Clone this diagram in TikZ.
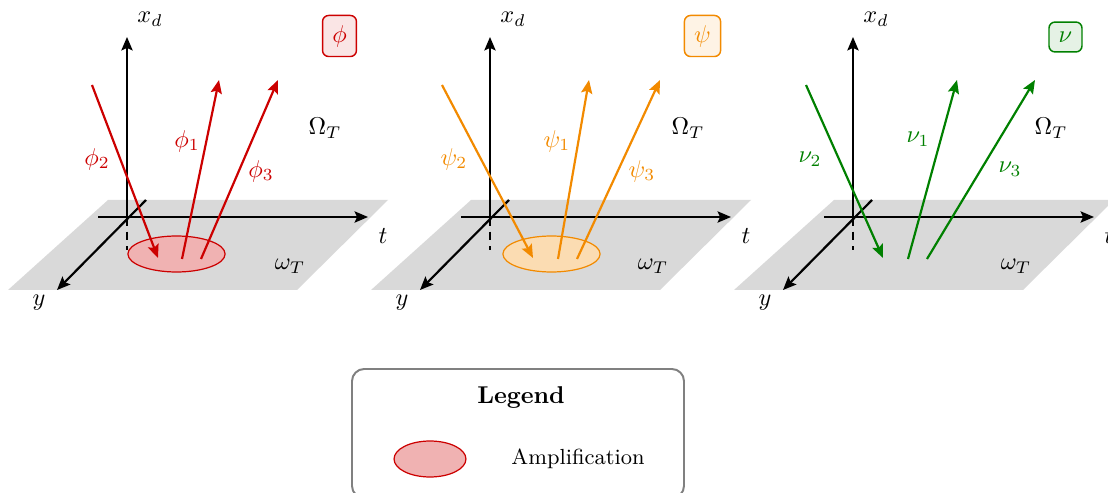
\documentclass[tikz,border=0pt]{standalone}
\usetikzlibrary{arrows.meta,shapes.geometric}
\definecolor{myred}{RGB}{204,0,0}
\definecolor{myorange}{RGB}{242,138,0}
\definecolor{mygreen}{RGB}{0,128,0}
\begin{document}
\begin{tikzpicture}[x=0.4115pt,y=-0.4115pt,
  axis/.style={line width=0.9pt,-{Stealth[length=5.5pt,width=4.6pt,inset=1pt]}},
  ray/.style={line width=0.9pt,-{Stealth[length=5.5pt,width=4.6pt,inset=1pt]}},
  lbl/.style={inner sep=0pt},
  tag/.style={rounded corners=2.5pt,inner sep=4pt,line width=0.6pt},
  amp/.style={ellipse,line width=0.5pt,inner sep=0pt,minimum width=40pt,minimum height=14.8pt}]
\useasboundingbox (0,0) rectangle (1108,493);
\clip (0,0) rectangle (1108,493);

% planes and axes
\foreach \o/\n in {0/1,363/2,726/3} {
  \fill[gray!30] (108+\o,200) -- (388+\o,200) -- (297+\o,290) -- (8+\o,290) -- cycle;
}
% amplification regions
\node[amp,draw=myred,fill=myred!30] (e1) at (176.5,254) {};
\node[amp,draw=myorange,fill=myorange!30] (e2) at (551.5,254) {};

\foreach \o/\n in {0/1,363/2,726/3} {
  \coordinate (O\n) at (127+\o,217);
  \coordinate (X\n) at (127+\o,37);
  \coordinate (T0\n) at (98+\o,217);
  \coordinate (T\n) at (368+\o,217);
  \coordinate (Y0\n) at (146+\o,200);
  \coordinate (Y\n) at (57+\o,290);
  \coordinate (D\n) at (127+\o,250);
  \draw[axis] (O\n) -- (X\n);
  \draw[axis] (T0\n) -- (T\n);
  \draw[axis] (Y0\n) -- (Y\n);
  \draw[line width=0.9pt,dash pattern=on 3.5pt off 2.5pt] (O\n) -- (D\n);
  \node[lbl] (xd\n) at (150+\o,19) {$x_d$};
  \node[lbl] (t\n) at (383+\o,236) {$t$};
  \node[lbl] (y\n) at (39+\o,303) {$y$};
  \node[lbl] (Om\n) at (325+\o,128) {$\Omega_T$};
  \node[lbl] (om\n) at (290+\o,266) {$\omega_T$};
}

% panel 1
\coordinate (a1s) at (92,85);   \coordinate (a1e) at (158,258);
\coordinate (b1s) at (182,259); \coordinate (b1e) at (219,80);
\coordinate (c1s) at (201,259); \coordinate (c1e) at (278,80);
\draw[ray,myred] (a1s) -- (a1e);
\draw[ray,myred] (b1s) -- (b1e);
\draw[ray,myred] (c1s) -- (c1e);
\node[lbl,text=myred] (p2) at (97,159) {$\phi_2$};
\node[lbl,text=myred] (p1) at (187,141) {$\phi_1$};
\node[lbl,text=myred] (p3) at (261,171) {$\phi_3$};
\node[tag,draw=myred,fill=myred!10,text=myred] (tp) at (339.5,36) {$\phi$};

% panel 2
\coordinate (a2s) at (442,85);  \coordinate (a2e) at (533,258);
\coordinate (b2s) at (558,259); \coordinate (b2e) at (589,80);
\coordinate (c2s) at (577,259); \coordinate (c2e) at (660,80);
\draw[ray,myorange] (a2s) -- (a2e);
\draw[ray,myorange] (b2s) -- (b2e);
\draw[ray,myorange] (c2s) -- (c2e);
\node[lbl,text=myorange] (q2) at (454,159) {$\psi_2$};
\node[lbl,text=myorange] (q1) at (557,141) {$\psi_1$};
\node[lbl,text=myorange] (q3) at (642,171) {$\psi_3$};
\node[tag,draw=myorange,fill=myorange!10,text=myorange] (tq) at (702.5,36) {$\psi$};

% panel 3
\coordinate (a3s) at (806,85);  \coordinate (a3e) at (883,258);
\coordinate (b3s) at (908,259); \coordinate (b3e) at (957,80);
\coordinate (c3s) at (927,259); \coordinate (c3e) at (1035,80);
\draw[ray,mygreen] (a3s) -- (a3e);
\draw[ray,mygreen] (b3s) -- (b3e);
\draw[ray,mygreen] (c3s) -- (c3e);
\node[lbl,text=mygreen] (n2) at (810,159) {$\nu_2$};
\node[lbl,text=mygreen] (n1) at (918,139) {$\nu_1$};
\node[lbl,text=mygreen] (n3) at (1010,169) {$\nu_3$};
\node[tag,draw=mygreen,fill=mygreen!10,text=mygreen] (tn) at (1065.5,37) {$\nu$};

% legend
\draw[gray,line width=0.8pt,rounded corners=5pt] (352,369) rectangle (684,498);
\node[lbl] (leg) at (521,398) {\textbf{Legend}};
\node[amp,draw=myred,fill=myred!30,minimum width=29.6pt] (le) at (430,459) {};
\node[lbl] (la) at (578,459) {\small Amplification};
\end{tikzpicture}
\end{document}
